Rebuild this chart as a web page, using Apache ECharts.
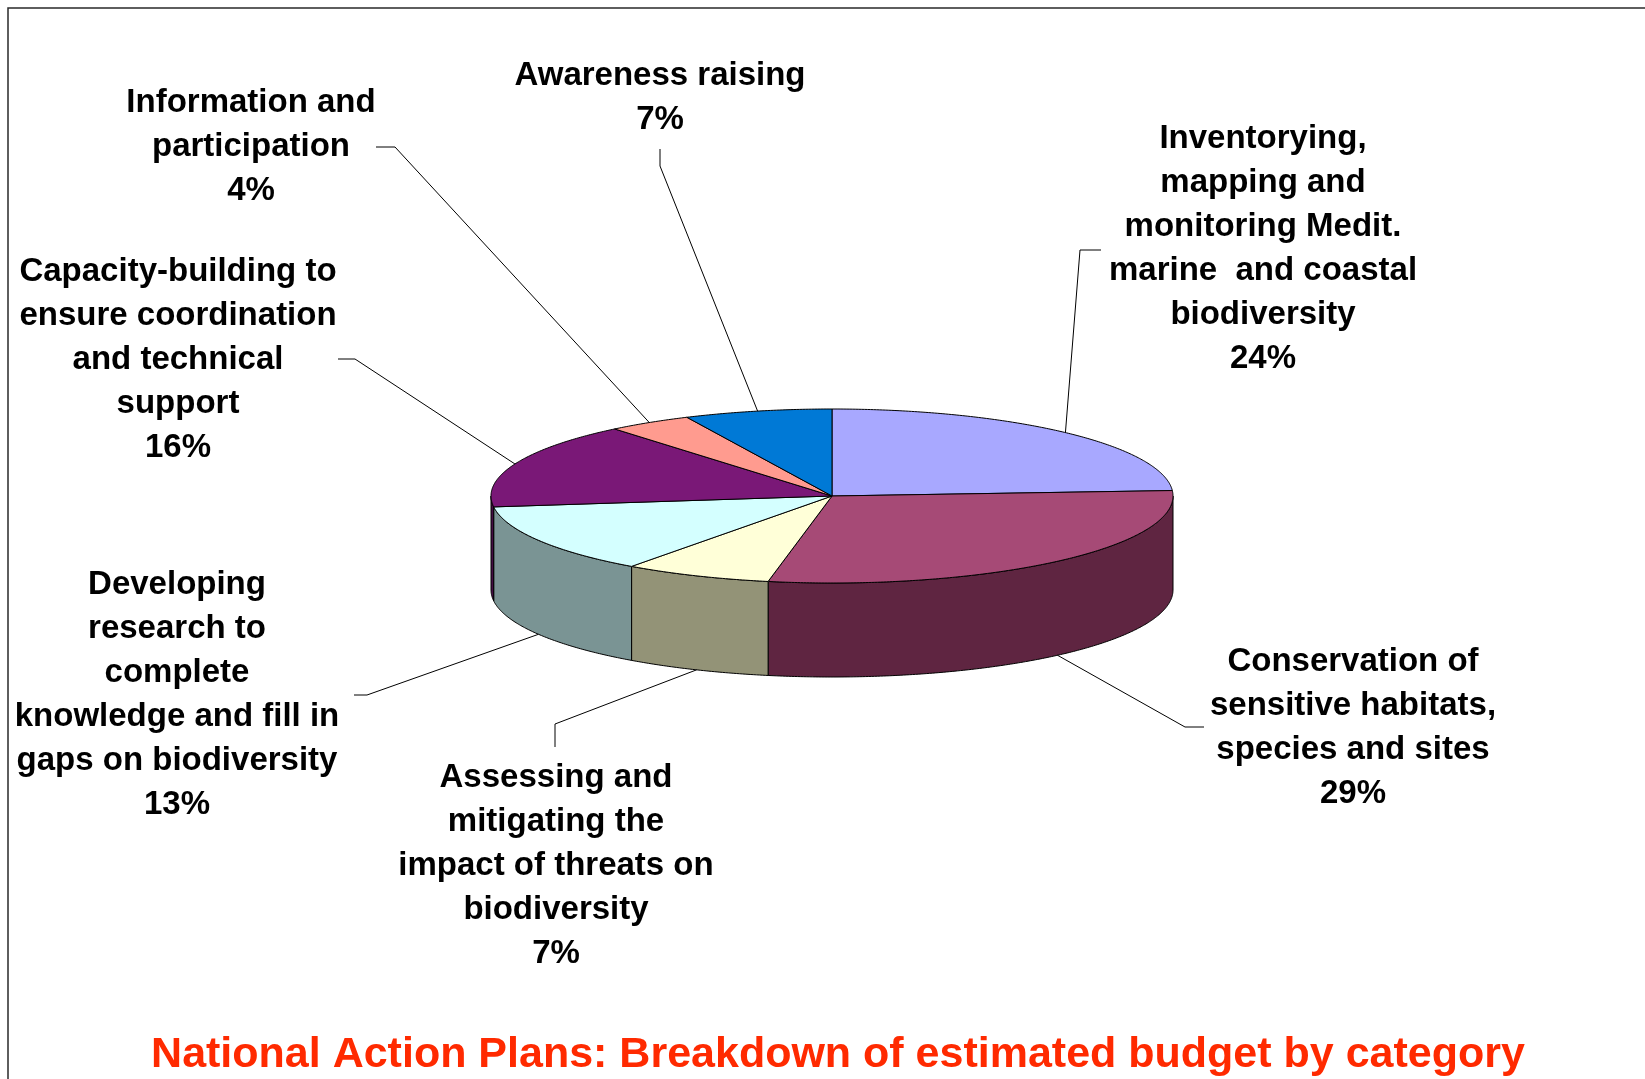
<!DOCTYPE html>
<html>
<head>
<meta charset="utf-8">
<script src="https://cdn.jsdelivr.net/npm/echarts@6/dist/echarts.min.js"></script>
<style>
  html, body { margin: 0; padding: 0; background: #ffffff; }
  #chart { width: 1645px; height: 1079px; }
</style>
</head>
<body>
<div id="chart"></div>
<script>
// Budget categories, clockwise from 12 o'clock
const categories = [
  'Inventorying,\nmapping and\nmonitoring Medit.\nmarine  and coastal\nbiodiversity',
  'Conservation of\nsensitive habitats,\nspecies and sites',
  'Assessing and\nmitigating the\nimpact of threats on\nbiodiversity',
  'Developing\nresearch to\ncomplete\nknowledge and fill in\ngaps on biodiversity',
  'Capacity-building to\nensure coordination\nand technical\nsupport',
  'Information and\nparticipation',
  'Awareness raising'
];
// Share of the estimated budget, percent
const shares = [24, 29, 7, 13, 16, 4, 7];

// Slice colours: top face and darker side wall
const topColors  = ['#A8A8FF', '#A64A76', '#FFFFD8', '#D4FFFF', '#7A1877', '#FF9B8F', '#0079D6'];
const sideColors = ['#5E5E8F', '#5F2541', '#939377', '#7A9494', '#450D44', '#8F5750', '#00447A'];

const chartTitle = 'National Action Plans: Breakdown of estimated budget by category';

// Pie projection (pixels)
const PIE = { cx: 832, cy: 496, rx: 341, ry: 87, depth: 94 };

// Label blocks: centre x, top y; leader: start point and elbow point
const labelLayout = [
  { x: 1263, y: 117, leader: [[1101, 250], [1080, 250]] },
  { x: 1353, y: 640, leader: [[1204, 727], [1185, 727]] },
  { x: 556,  y: 756, leader: [[555, 747], [555, 724]] },
  { x: 177,  y: 563, leader: [[354, 695], [367, 695]] },
  { x: 178,  y: 250, leader: [[338, 359], [355, 359]] },
  { x: 251,  y: 81,  leader: [[376, 147], [395, 147]] },
  { x: 660,  y: 54,  leader: [[660, 149], [660, 166]] }
];

const total = shares.reduce((a, b) => a + b, 0);
const starts = [];
shares.reduce((acc, v) => { starts.push(acc); return acc + v; }, 0);

// Point on the top rim at angle t (clockwise from 12 o'clock), optionally dropped by the wall depth
function rim(t, drop) {
  return [PIE.cx + PIE.rx * Math.sin(t), PIE.cy - PIE.ry * Math.cos(t) + (drop || 0)];
}
function arc(t0, t1, drop) {
  const pts = [];
  const n = Math.max(2, Math.ceil(Math.abs(t1 - t0) / (Math.PI / 360)));
  for (let k = 0; k <= n; k++) pts.push(rim(t0 + (t1 - t0) * k / n, drop));
  return pts;
}

function renderSlice(params, api) {
  const i = params.dataIndex;
  const v = api.value(0);
  const a0 = starts[i] / total * Math.PI * 2;
  const a1 = a0 + v / total * Math.PI * 2;
  const children = [];

  // Visible outer wall: the front half of the cylinder
  const w0 = Math.max(a0, Math.PI / 2);
  const w1 = Math.min(a1, Math.PI * 1.5);
  if (w1 > w0) {
    const pts = arc(w0, w1, 0).concat(arc(w1, w0, PIE.depth));
    children.push({
      type: 'polygon',
      shape: { points: pts },
      style: { fill: sideColors[i], stroke: '#000', lineWidth: 1 }
    });
  }

  // Top face
  children.push({
    type: 'polygon',
    shape: { points: [[PIE.cx, PIE.cy]].concat(arc(a0, a1, 0)) },
    style: { fill: topColors[i], stroke: '#000', lineWidth: 1 }
  });

  // Leader line to the slice's mid-angle on the rim (bottom edge for front slices)
  const mid = (a0 + a1) / 2;
  const end = rim(mid, Math.cos(mid) < 0 ? PIE.depth : 0);
  const lay = labelLayout[i];
  children.push({
    type: 'polyline',
    shape: { points: [lay.leader[0], lay.leader[1], end] },
    style: { stroke: '#000', lineWidth: 1, fill: null }
  });

  // Category label with its percentage
  children.push({
    type: 'text',
    x: lay.x,
    y: lay.y,
    style: {
      text: categories[i] + '\n' + v + '%',
      fill: '#000',
      fontSize: 33,
      fontWeight: 'bold',
      fontFamily: '"Liberation Sans", Arial, sans-serif',
      lineHeight: 44,
      align: 'center',
      verticalAlign: 'top'
    }
  });

  return { type: 'group', children: children };
}

const chart = echarts.init(document.getElementById('chart'), null, { renderer: 'canvas' });
chart.setOption({
  animation: false,
  backgroundColor: '#ffffff',
  graphic: [
    {
      type: 'polyline',
      shape: { points: [[8, 1079], [8, 8], [1645, 8]] },
      style: { stroke: '#2a2a2a', lineWidth: 1.5, fill: null },
      z: 1
    },
    {
      type: 'text',
      x: 838,
      y: 1055,
      style: {
        text: chartTitle,
        fill: '#FF2A00',
        fontSize: 43,
        fontWeight: 'bold',
        fontFamily: '"Liberation Sans", Arial, sans-serif',
        align: 'center',
        verticalAlign: 'middle'
      },
      z: 10
    }
  ],
  series: [{
    type: 'custom',
    coordinateSystem: 'none',
    renderItem: renderSlice,
    data: shares
  }]
});
</script>
</body>
</html>
